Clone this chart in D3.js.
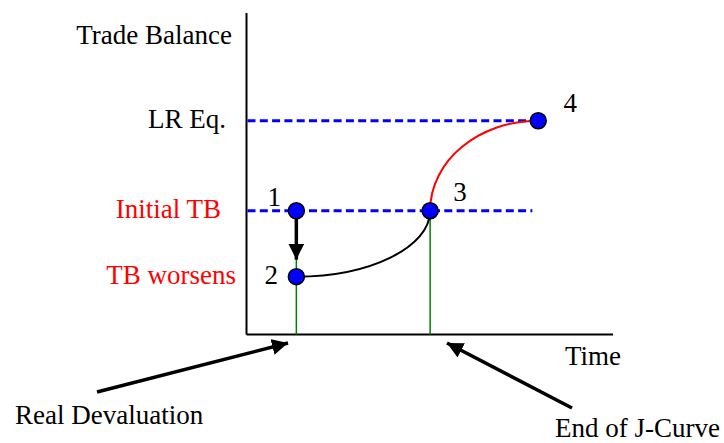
<!DOCTYPE html>
<html>
<head>
<meta charset="utf-8">
<script src="https://cdn.jsdelivr.net/npm/d3@7"></script>
<style>
  body { margin: 0; background: #fff; }
  svg text { font-family: "Liberation Serif", "Times New Roman", serif; }
</style>
</head>
<body>
<svg id="jcurve" width="724" height="443"></svg>
<script>
// data (time on x, trade balance on y, arbitrary units)
const pointIds = ["1", "2", "3", "4"];
const pointTime = [1.36, 1.36, 5.01, 7.96];
const pointTB = [3.85, 1.8, 3.85, 6.65];

const levelLabels = ["LR Eq.", "Initial TB", "TB worsens"];
const levelValues = [6.65, 3.85, 1.8];
const levelColors = ["#000", "#ff0000", "#ff0000"];
const dashedLevels = [6.65, 3.85];
const dashedEnd = [7.96, 7.8];

const markerTimes = [1.36, 5.01];
const pointerLabels = ["Real Devaluation", "End of J-Curve"];

const svg = d3.select("#jcurve");
const x = d3.scaleLinear().domain([0, 10]).range([246.5, 613]);
const y = d3.scaleLinear().domain([0, 10]).range([334.5, 13]);
const fs = 27;

const defs = svg.append("defs");
defs.append("marker")
    .attr("id", "head")
    .attr("viewBox", "0 0 10 10")
    .attr("refX", 10).attr("refY", 5)
    .attr("markerWidth", 16).attr("markerHeight", 16)
    .attr("markerUnits", "userSpaceOnUse")
    .attr("orient", "auto")
    .append("path").attr("d", "M0,0 L10,5 L0,10 Z").attr("fill", "#000");

// axes
svg.append("line")
    .attr("x1", x(0)).attr("x2", x(0)).attr("y1", y(10)).attr("y2", y(0))
    .attr("stroke", "#000").attr("stroke-width", 2);
svg.append("line")
    .attr("x1", x(0)).attr("x2", x(10)).attr("y1", y(0)).attr("y2", y(0))
    .attr("stroke", "#000").attr("stroke-width", 2);

svg.append("text").attr("x", 232).attr("y", 44).attr("text-anchor", "end")
    .attr("font-size", fs).text("Trade Balance");
svg.append("text").attr("x", 621).attr("y", 365).attr("text-anchor", "end")
    .attr("font-size", fs).text("Time");

// level labels
svg.selectAll(".level")
    .data(levelLabels)
    .enter().append("text")
    .attr("class", "level")
    .attr("x", (d, i) => i == 0 ? 226 : (i == 1 ? 221 : 236))
    .attr("y", (d, i) => y(levelValues[i]) + 7)
    .attr("text-anchor", "end")
    .attr("font-size", fs)
    .attr("fill", (d, i) => levelColors[i])
    .text(d => d);

// dashed lines
svg.selectAll(".dash")
    .data(dashedLevels)
    .enter().append("line")
    .attr("x1", x(0) + 1).attr("x2", (d, i) => x(dashedEnd[i]))
    .attr("y1", d => y(d)).attr("y2", d => y(d))
    .attr("stroke", "#0000ff").attr("stroke-width", 3)
    .attr("stroke-dasharray", "8,4.3");

// green verticals
svg.selectAll(".mark")
    .data(markerTimes)
    .enter().append("line")
    .attr("x1", d => x(d)).attr("x2", d => x(d))
    .attr("y1", y(pointTB[0])).attr("y2", y(0))
    .attr("stroke", "#008000").attr("stroke-width", 1.5);

// quarter-ellipse curves
function quarter(p, q, verticalFirst) {
  const k = 0.5523;
  const px = x(pointTime[p]), py = y(pointTB[p]);
  const qx = x(pointTime[q]), qy = y(pointTB[q]);
  const path = d3.path();
  path.moveTo(px, py);
  if (verticalFirst) {
    path.bezierCurveTo(px, py + k * (qy - py), qx - k * (qx - px), qy, qx, qy);
  } else {
    path.bezierCurveTo(px + k * (qx - px), py, qx, qy - k * (qy - py), qx, qy);
  }
  return path.toString();
}
svg.append("path").attr("d", quarter(1, 2, false))
    .attr("fill", "none").attr("stroke", "#000").attr("stroke-width", 2);
svg.append("path").attr("d", quarter(2, 3, true))
    .attr("fill", "none").attr("stroke", "#ff0000").attr("stroke-width", 2);

// drop arrow from 1 to 2
svg.append("line")
    .attr("x1", x(pointTime[0])).attr("x2", x(pointTime[0]))
    .attr("y1", y(pointTB[0])).attr("y2", y(pointTB[1]) - 17)
    .attr("stroke", "#000").attr("stroke-width", 3.5)
    .attr("marker-end", "url(#head)");

// points
svg.selectAll(".pt")
    .data(pointIds)
    .enter().append("circle")
    .attr("cx", (d, i) => x(pointTime[i]))
    .attr("cy", (d, i) => y(pointTB[i]))
    .attr("r", 8)
    .attr("fill", "#0000ff")
    .attr("stroke", "#000").attr("stroke-width", 1.5);

const labelDx = [-22, -25, 30, 32];
const labelDy = [-5, 7, -10, -9];
svg.selectAll(".pid")
    .data(pointIds)
    .enter().append("text")
    .attr("x", (d, i) => x(pointTime[i]) + labelDx[i])
    .attr("y", (d, i) => y(pointTB[i]) + labelDy[i])
    .attr("text-anchor", "middle")
    .attr("font-size", fs)
    .text(d => d);

// pointer arrows
const pointerTail = [[97, 392], [572, 408]];
const pointerTip = [[288, 343], [447, 343]];
svg.selectAll(".ptr")
    .data(pointerLabels)
    .enter().append("line")
    .attr("x1", (d, i) => pointerTail[i][0]).attr("y1", (d, i) => pointerTail[i][1])
    .attr("x2", (d, i) => pointerTip[i][0]).attr("y2", (d, i) => pointerTip[i][1])
    .attr("stroke", "#000").attr("stroke-width", 3.5)
    .attr("marker-end", "url(#head)");

svg.append("text").attr("x", 15).attr("y", 424).attr("font-size", fs).text(pointerLabels[0]);
svg.append("text").attr("x", 555).attr("y", 437).attr("font-size", fs).text(pointerLabels[1]);
</script>
</body>
</html>
